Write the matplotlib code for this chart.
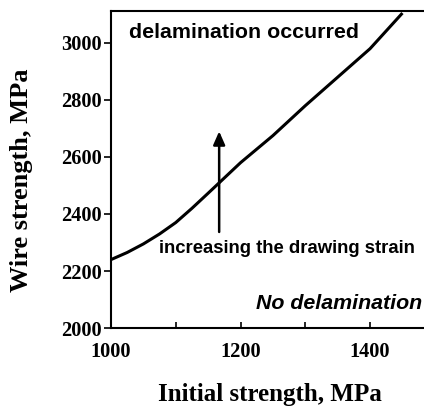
import numpy as np
import matplotlib.pyplot as plt

# boundary between delamination / no delamination
init_strength = [1000, 1025, 1050, 1075, 1100, 1125, 1150, 1200, 1250, 1300, 1350, 1400, 1450]
wire_strength = [2240, 2265, 2295, 2330, 2370, 2420, 2473, 2580, 2675, 2780, 2880, 2980, 3105]

arrow_x = 1167
arrow_y = [2337, 2690]

y_ticks = [2000, 2200, 2400, 2600, 2800, 3000]
x_ticks = [1000, 1100, 1200, 1300, 1400]
x_labels = ["1000", "", "1200", "", "1400"]

serif = "Liberation Serif"
sans = "Liberation Sans"

fig = plt.figure(figsize=(4.24, 4.09), dpi=100)
ax = fig.add_axes([0.2618, 0.198, 0.75, 0.775])

ax.plot(init_strength, wire_strength, color="black", lw=2.2, solid_capstyle="butt")
ax.annotate("", xy=(arrow_x, arrow_y[1]), xytext=(arrow_x, arrow_y[0]),
            arrowprops=dict(arrowstyle="-|>,head_length=0.5,head_width=0.22", lw=1.8,
                            color="black", mutation_scale=16, shrinkA=0, shrinkB=0))

ax.text(1028, 3018, "delamination occurred", family=sans, weight="bold",
        fontsize=15.4, va="baseline", ha="left")
ax.text(1074, 2263, "increasing the drawing strain", family=sans, weight="bold",
        fontsize=13.3, va="baseline", ha="left")
ax.text(1480, 2067, "No delamination", family=sans, weight="bold", style="italic",
        fontsize=15.4, va="baseline", ha="right")

ax.set_xlim(1000, 1491)
ax.set_ylim(2000, 3112)
ax.set_xticks(x_ticks)
ax.set_xticklabels(x_labels)
ax.set_yticks(y_ticks)

for s in ["left", "bottom", "top"]:
    ax.spines[s].set_linewidth(1.5)
ax.spines["right"].set_visible(False)

ax.tick_params(axis="x", direction="in", length=4, width=1.2, pad=10)
ax.tick_params(axis="y", direction="out", length=5, width=1.2, pad=1.5)
for lab in ax.get_xticklabels() + ax.get_yticklabels():
    lab.set_family(serif)
    lab.set_weight("bold")
    lab.set_fontsize(14.7)

ax.set_xlabel("Initial strength, MPa", family=serif, weight="bold", fontsize=18, labelpad=15)
ax.set_ylabel("Wire strength, MPa", family=serif, weight="bold", fontsize=19)
ax.yaxis.set_label_coords(-0.245, 0.467)

fig.savefig("out.png", dpi=100)
